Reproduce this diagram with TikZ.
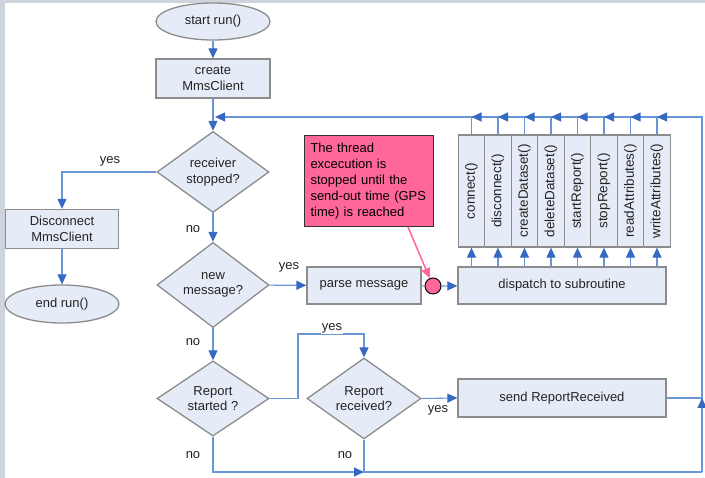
\documentclass[tikz,border=0pt]{standalone}
\usepackage{fontspec}
\setmainfont{Liberation Sans}
\usetikzlibrary{shapes.geometric,arrows.meta,calc}
\definecolor{framegray}{RGB}{206,211,220}
\definecolor{boxfill}{RGB}{230,236,247}
\definecolor{boxline}{RGB}{140,140,140}
\definecolor{flowblue}{RGB}{105,150,215}
\definecolor{tipblue}{RGB}{55,105,195}
\definecolor{notepink}{RGB}{255,102,153}
\definecolor{txt}{RGB}{35,35,35}
\begin{document}
\begin{tikzpicture}[x=1pt,y=-1pt,
  every node/.style={font=\fontsize{13}{15.5}\selectfont, text=txt},
  proc/.style={draw=boxline, line width=1.3pt, fill=boxfill, rectangle, align=center, inner sep=0pt},
  term/.style={draw=boxline, line width=1.3pt, fill=boxfill, ellipse, inner sep=0pt, minimum width=114pt, minimum height=37pt},
  decis/.style={draw=boxline, line width=1.3pt, fill=boxfill, diamond, inner sep=0pt, align=center, minimum width=112pt, minimum height=74pt},
  flow/.style={draw=flowblue, line width=1.1pt},
  arr/.style={flow, -{Triangle[length=10pt,width=9pt,color=tipblue]}},
  lbl/.style={inner sep=1pt}
]
\fill[framegray] (0,0) rectangle (705,478);
\fill[white] (5,3) rectangle (705,478);
\useasboundingbox (0,0) rectangle (705,478);

\coordinate (jtop) at (213,117);
\coordinate (rtop) at (702,117);
\coordinate (rbot) at (702,472);

\node[term] (start) at (213,21.5) {start run()};
\node[proc, minimum width=114pt, minimum height=39pt] (create) at (213,78.5) {create\\MmsClient};
\node[decis] (recv) at (213,172) {receiver\\stopped?};
\node[proc, minimum width=113pt, minimum height=39pt] (disc) at (62,229) {Disconnect\\MmsClient};
\node[term, minimum height=38pt] (endrun) at (62,304) {end run()};
\node[decis] (newmsg) at (213,285) {new\\message?};
\node[proc, minimum width=114pt, minimum height=37pt] (parse) at (364,285.5) {parse message};
\node[circle, draw=black, line width=1pt, fill=notepink, minimum size=16pt, inner sep=0pt] (dot) at (433,286) {};
\node[proc, minimum width=208pt, minimum height=37pt] (disp) at (562,285.5) {dispatch to subroutine};
\foreach \t [count=\i] in {connect(),disconnect(),createDataset(),deleteDataset(),startReport(),stopReport(),readAttributes(),writeAttributes()} {
  \node[proc, minimum width=26.5pt, minimum height=112pt] (sub\i) at ({471.5+26.5*(\i-1)},191) {};
  \node[rotate=90, inner sep=0pt, font=\fontsize{13.5}{15}\selectfont] (subt\i) at (sub\i) {\t};
}
\node[decis, minimum height=73pt] (repst) at (213,398.5) {Report\\started ?};
\node[decis, minimum width=114pt, minimum height=73pt] (reprcv) at (364,398.5) {Report\\received?};
\node[proc, minimum width=208pt, minimum height=38pt] (send) at (562,398) {send ReportReceived};
\node[draw=black!80, line width=1pt, fill=notepink, minimum width=129pt, minimum height=91pt, align=left, text width=117pt, inner sep=6pt, anchor=north west, font=\fontsize{13}{16}\selectfont, text=black] (note) at (304,135) {The thread\\excecution is\\stopped until the\\send-out time (GPS\\time) is reached};

% connectors
\draw[arr] (start) -- (create);
\draw[arr] (create) -- (recv);
\draw[arr, shorten >=2pt] (rbot) -- (rtop) -- (jtop);
\draw[arr] (recv.west) -| (disc.north);
\node[lbl] (y1) at (110,161) {yes};
\draw[arr] (disc) -- (endrun);
\draw[arr] (recv) -- (newmsg);
\node[lbl] (n1) at (193,229) {no};
\draw[arr] (newmsg) -- (parse);
\node[lbl] (y2) at (289,267) {yes};
\draw[flow] (parse) -- (dot);
\draw[arr] (dot) -- (disp);
\foreach \i in {1,...,8} {
  \draw[arr] (disp.north -| sub\i) -- (sub\i.south);
  \draw[flow] (sub\i.north) -- (sub\i.north |- jtop);
  \draw[arr] ($(sub\i.north |- jtop)+(11,0)$) -- (sub\i.north |- jtop);
}
\draw[arr] (newmsg) -- (repst);
\node[lbl] (n2) at (193,342) {no};
\draw[arr] (repst.east) -| (298,334) -| (reprcv.north);
\node[fill=white, inner sep=1pt] (y3) at (332,328) {yes};
\draw[arr] (reprcv.east) -- (send.west);
\node[lbl] (y4) at (438,410) {yes};
\draw[flow] (send.east) -- (send.east -| rtop);
\draw[arr] ($(send.east -| rtop)+(0,12)$) -- (send.east -| rtop);
\draw[arr] (repst.south) |- (reprcv.south |- rbot);
\draw[flow] (reprcv.south) -- (reprcv.south |- rbot) -- (rbot);
\node[lbl] (n3) at (193,455) {no};
\node[lbl] (n4) at (345,455) {no};
\draw[notepink, line width=1.5pt, -{Triangle[length=10pt,width=9pt]}] ($(note.south west)+(104,0)$) -- (dot);
\end{tikzpicture}
\end{document}
